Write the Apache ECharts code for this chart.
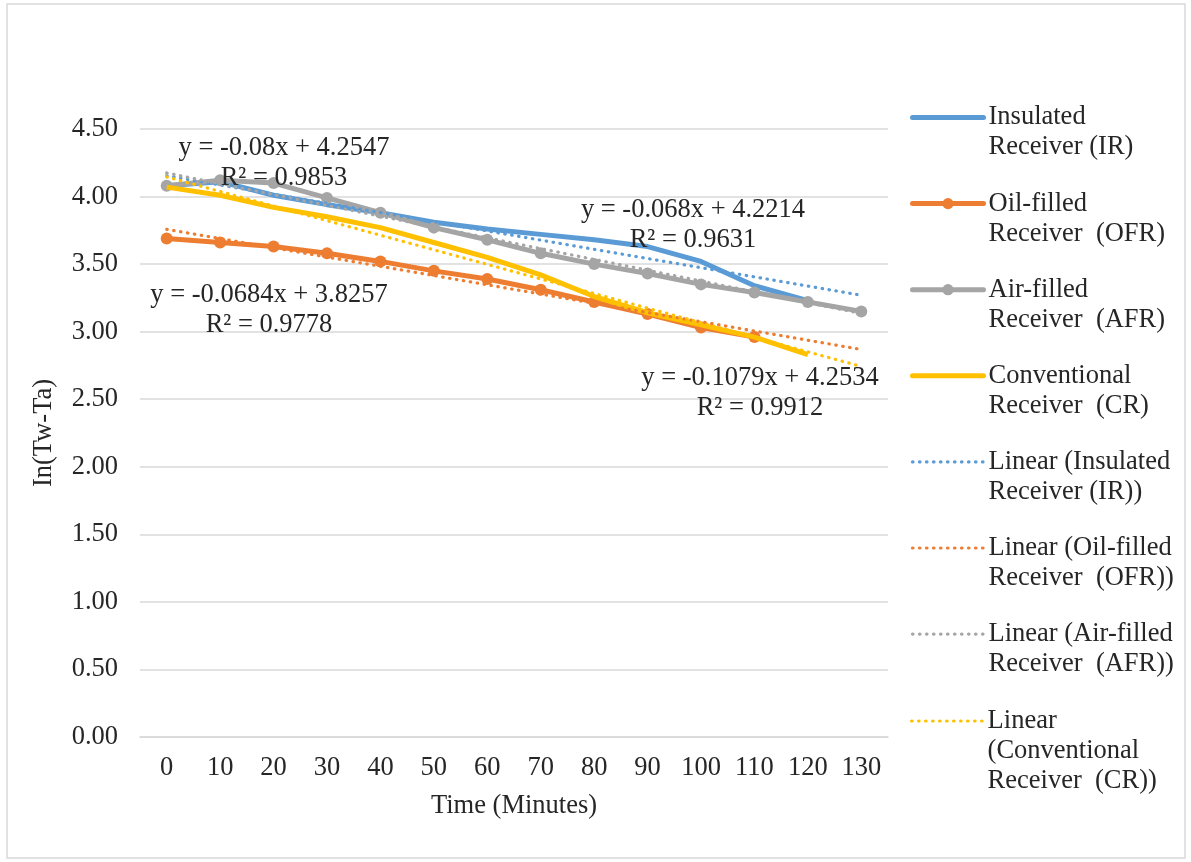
<!DOCTYPE html>
<html>
<head>
<meta charset="utf-8">
<script src="https://cdn.jsdelivr.net/npm/echarts@6/dist/echarts.min.js"></script>
<style>html,body{margin:0;padding:0;background:#fff;}#c{width:1191px;height:862px;}</style>
</head>
<body>
<div id="c"></div>
<script>
const categories = ['0','10','20','30','40','50','60','70','80','90','100','110','120','130'];
const yTicks = [0, 0.5, 1, 1.5, 2, 2.5, 3, 3.5, 4, 4.5];
const irValues  = [4.08, 4.11, 4.01, 3.94, 3.88, 3.81, 3.76, 3.72, 3.68, 3.63, 3.52, 3.34, 3.23];
const ofrValues = [3.69, 3.66, 3.63, 3.58, 3.52, 3.45, 3.39, 3.31, 3.22, 3.13, 3.03, 2.96];
const afrValues = [4.08, 4.12, 4.10, 3.99, 3.88, 3.77, 3.68, 3.58, 3.50, 3.43, 3.35, 3.29, 3.22, 3.15];
const crValues  = [4.07, 4.01, 3.92, 3.85, 3.77, 3.66, 3.55, 3.42, 3.26, 3.14, 3.05, 2.96, 2.83];
// trendline equations shown on chart (x = category number, 1-based)
const trendSlopes     = [-0.068, -0.0684, -0.08, -0.1079];
const trendIntercepts = [4.2214, 3.8257, 4.2547, 4.2534];
const trendR2         = ['0.9631', '0.9778', '0.9853', '0.9912'];

const seriesNames = ['Insulated Receiver (IR)', 'Oil-filled Receiver (OFR)', 'Air-filled Receiver (AFR)', 'Conventional Receiver (CR)'];
const trendNames = ['Linear (Insulated Receiver (IR))', 'Linear (Oil-filled Receiver (OFR))', 'Linear (Air-filled Receiver (AFR))', 'Linear (Conventional Receiver (CR))'];
const legendTexts = [
  'Insulated\nReceiver (IR)', 'Oil-filled\nReceiver  (OFR)', 'Air-filled\nReceiver  (AFR)', 'Conventional\nReceiver  (CR)',
  'Linear (Insulated\nReceiver (IR))', 'Linear (Oil-filled\nReceiver  (OFR))', 'Linear (Air-filled\nReceiver  (AFR))', 'Linear\n(Conventional\nReceiver  (CR))'
];
const colors = ['#5B9BD5', '#ED7D31', '#A5A5A5', '#FFC000'];
const values = [irValues, ofrValues, afrValues, crValues];
const hasMarker = [false, true, true, false];

const FONT = '"Liberation Serif", "Times New Roman", serif';
const FS = 26.5;
const LH = 30;
const TXT = '#262626';
const SOLID_W = 5;
const DOT_W = 3.2;
const DOT_TYPE = [0.5, 6.5];

const allNames = seriesNames.concat(trendNames);
const nameToText = {};
allNames.forEach((n, i) => {
  const lines = legendTexts[i].split('\n').length;
  // prepend blank lines so that the first text line sits level with the icon
  nameToText[n] = '\n'.repeat(lines - 1) + legendTexts[i];
});

const series = [];
values.forEach((v, i) => {
  series.push({
    name: seriesNames[i], type: 'line', data: v,
    symbol: hasMarker[i] ? 'circle' : 'none', symbolSize: 12,
    showSymbol: hasMarker[i],
    itemStyle: { color: colors[i] },
    lineStyle: { color: colors[i], width: SOLID_W },
    z: 2 + i, animation: false
  });
});
trendSlopes.forEach((s, i) => {
  const d = categories.map((c, k) => +(trendIntercepts[i] + s * (k + 1)).toFixed(4));
  series.push({
    name: trendNames[i], type: 'line', data: d, symbol: 'none',
    itemStyle: { color: colors[i] },
    lineStyle: { color: colors[i], width: DOT_W, type: DOT_TYPE, cap: 'round' },
    z: 10 + i, animation: false
  });
});

// equation labels
const eqPos = [[693, 210], [269, 295], [284, 148], [760, 378]];
const graphics = [{
  type: 'rect', shape: { x: 7, y: 4, width: 1178, height: 854 },
  style: { fill: 'none', stroke: '#d9d9d9', lineWidth: 1.5 }, z: 0
}];
trendSlopes.forEach((s, i) => {
  const eq = 'y = ' + s + 'x + ' + trendIntercepts[i];
  graphics.push({ type: 'text', x: eqPos[i][0], y: eqPos[i][1],
    style: { text: eq, font: FS + 'px ' + FONT, fill: TXT, align: 'center', verticalAlign: 'middle' }, z: 100 });
  graphics.push({ type: 'text', x: eqPos[i][0], y: eqPos[i][1] + 30,
    style: { text: 'R² = ' + trendR2[i], font: FS + 'px ' + FONT, fill: TXT, align: 'center', verticalAlign: 'middle' }, z: 100 });
});

const legendData = allNames.map((n, i) => {
  const isTrend = i >= 4;
  const item = { name: n };
  item.lineStyle = isTrend
    ? { width: DOT_W, type: DOT_TYPE, cap: 'round' }
    : { width: SOLID_W, cap: 'round' };
  if (!(i < 4 && hasMarker[i])) item.itemStyle = { opacity: 0 };
  return item;
});

const legendBase = {
  orient: 'vertical', left: 910, padding: 0,
  itemWidth: 71, itemHeight: 14, itemGap: -3.9,
  formatter: n => nameToText[n],
  textStyle: { fontFamily: FONT, fontSize: FS, lineHeight: LH, color: TXT }
};

const chart = echarts.init(document.getElementById('c'), null, { renderer: 'canvas' });
chart.setOption({
  animation: false,
  backgroundColor: '#fff',
  grid: { left: 140, right: 303, top: 129, bottom: 125, containLabel: false },
  legend: [
    Object.assign({}, legendBase, { top: 72.5, data: legendData.slice(0, 7) }),
    Object.assign({}, legendBase, { top: 646, data: legendData.slice(7) })
  ],
  xAxis: {
    type: 'category', data: categories, boundaryGap: true,
    name: 'Time (Minutes)', nameLocation: 'middle', nameGap: 56,
    nameTextStyle: { fontFamily: FONT, fontSize: FS, color: TXT },
    axisLine: { show: true, lineStyle: { color: '#d9d9d9', width: 1.5 } },
    axisTick: { show: false },
    axisLabel: { fontFamily: FONT, fontSize: FS, color: TXT, margin: 18, interval: 0 }
  },
  yAxis: {
    type: 'value', min: yTicks[0], max: yTicks[yTicks.length - 1], interval: 0.5,
    name: 'In(Tw-Ta)', nameLocation: 'middle', nameGap: 82, nameRotate: 90,
    nameTextStyle: { fontFamily: FONT, fontSize: FS, color: TXT },
    axisLine: { show: false }, axisTick: { show: false },
    splitLine: { lineStyle: { color: '#d9d9d9', width: 1.5 } },
    axisLabel: { fontFamily: FONT, fontSize: FS, color: TXT, margin: 22, formatter: v => v.toFixed(2) }
  },
  graphic: graphics,
  series: series
});
</script>
</body>
</html>
